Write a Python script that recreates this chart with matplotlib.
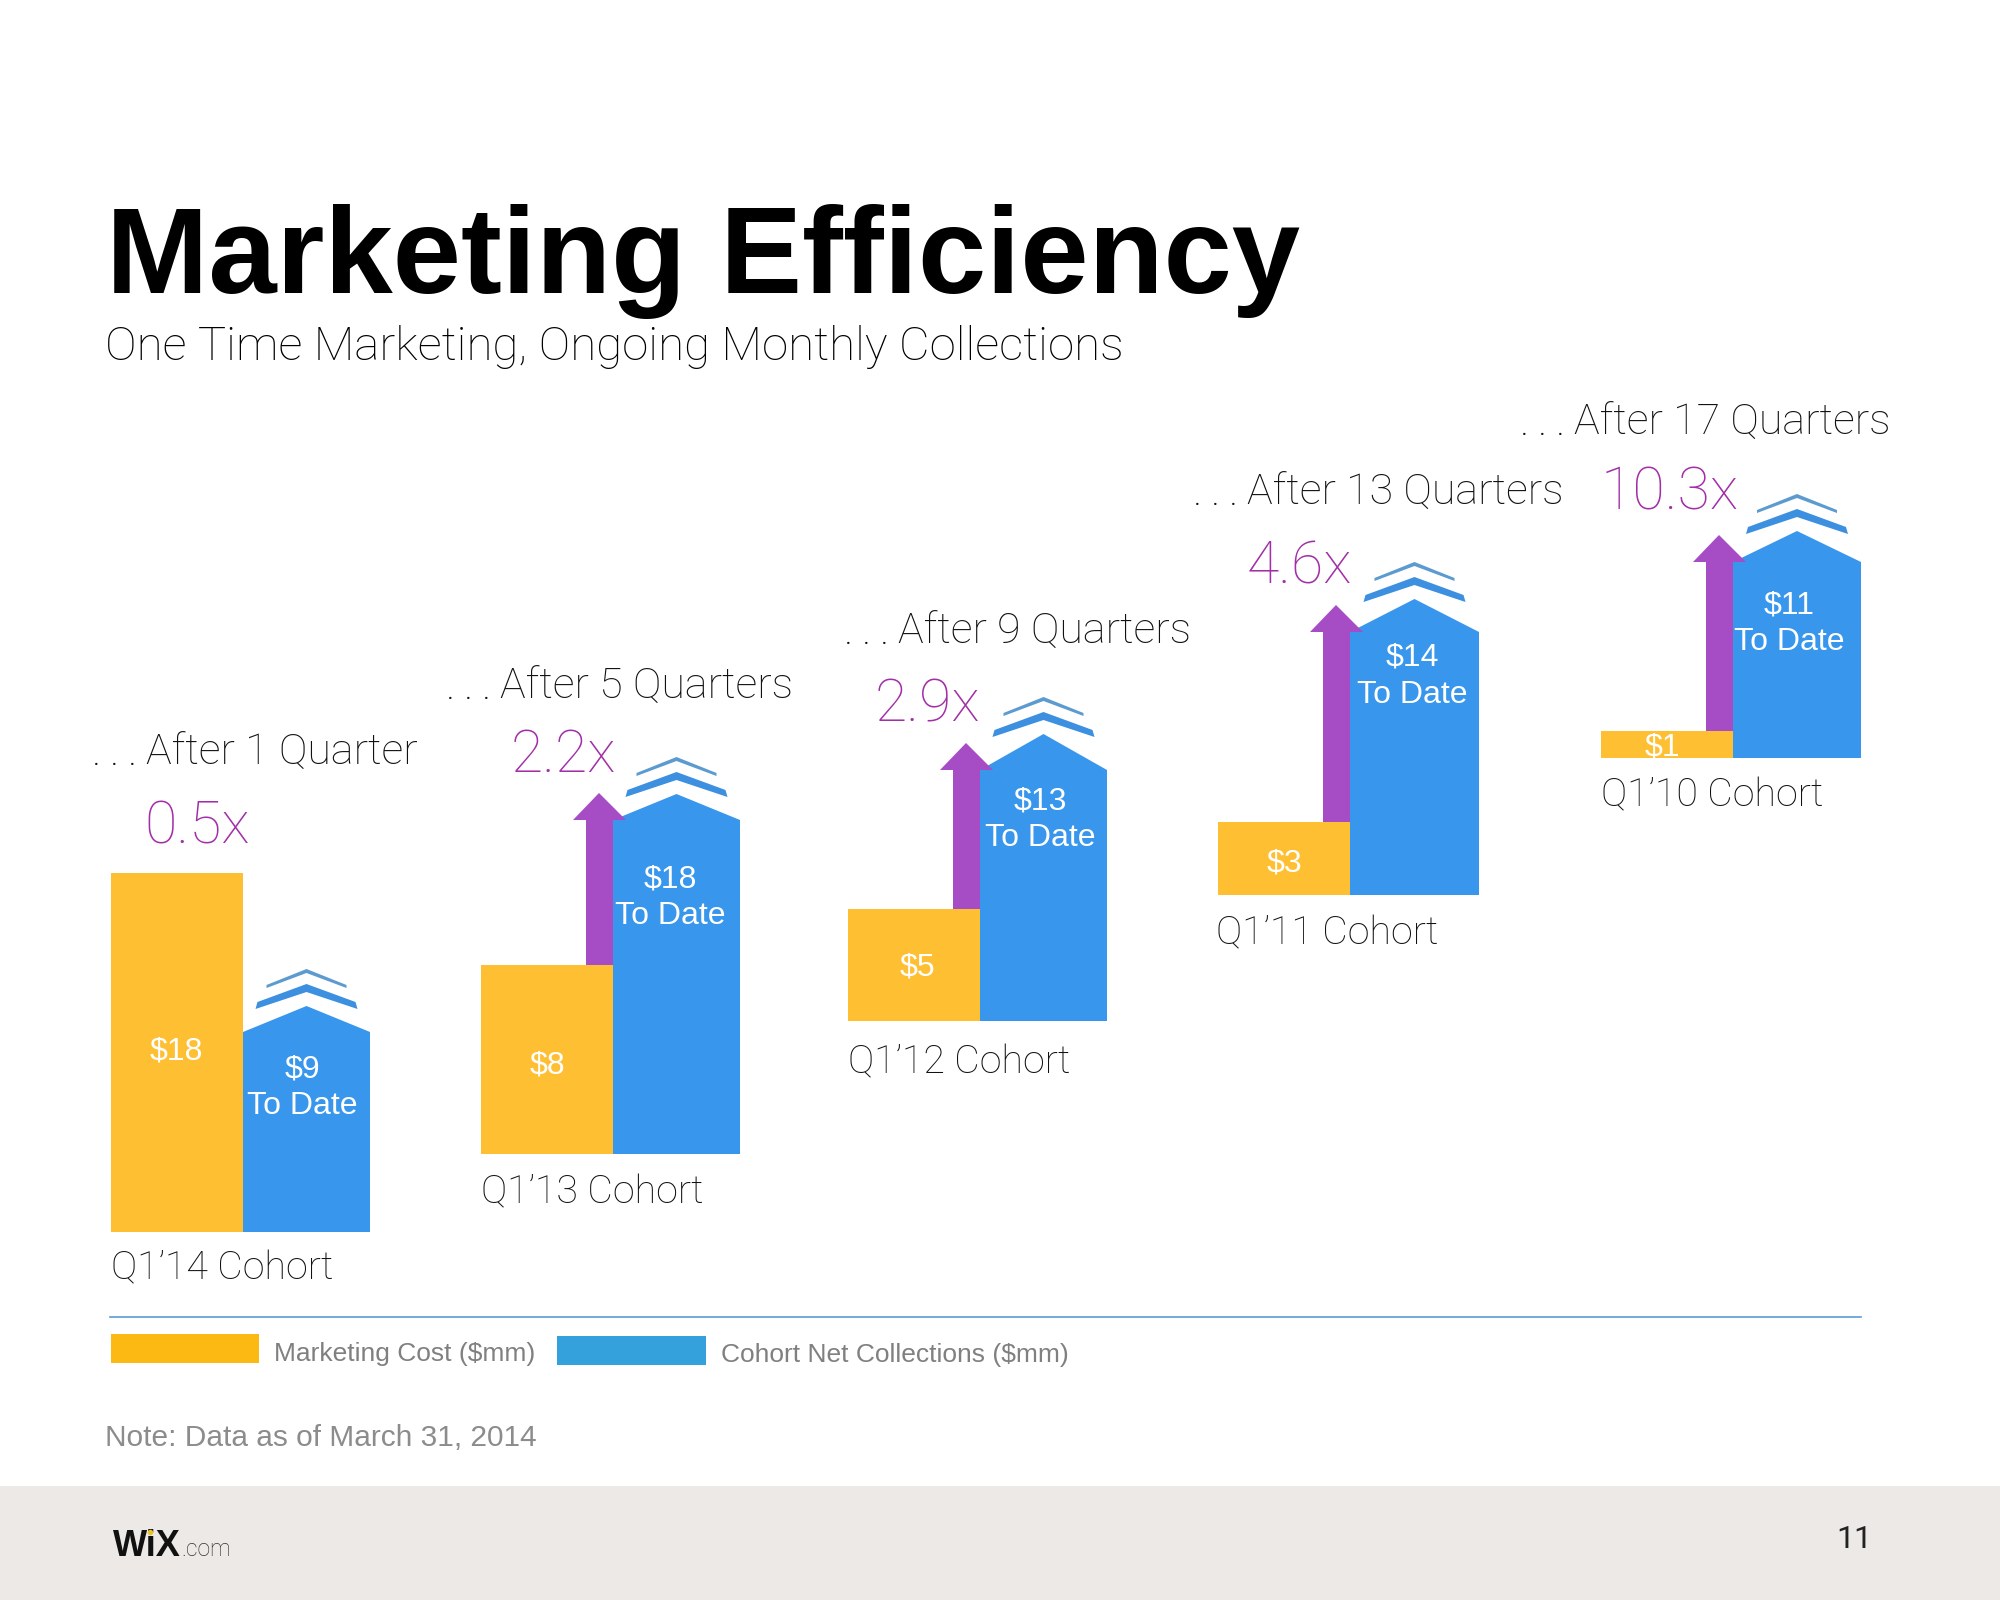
import matplotlib
matplotlib.use("Agg")
import matplotlib.pyplot as plt
from matplotlib.patches import Polygon, Rectangle

LIGHT = ["Roboto", "Liberation Sans", "DejaVu Sans"]
HEAVY = ["Liberation Sans", "DejaVu Sans"]

COST = "#FFBF33"
COLLECT = "#3896EC"
ARROW = "#A64DC6"
MULT = "#A22FA8"

# chart values
cohorts = ["Q1\u201914 Cohort", "Q1\u201913 Cohort", "Q1\u201912 Cohort", "Q1\u201911 Cohort", "Q1\u201910 Cohort"]
quarters = ["After 1 Quarter", "After 5 Quarters", "After 9 Quarters", "After 13 Quarters", "After 17 Quarters"]
multiples = ["0.5x", "2.2x", "2.9x", "4.6x", "10.3x"]
cost_labels = ["$18", "$8", "$5", "$3", "$1"]
collected_labels = ["$9", "$18", "$13", "$14", "$11"]
# drawn heights, it is not to one scale
cost_heights = [359, 189, 112, 73, 27]
collected_heights = [200, 334, 251, 263, 196]

# layout, in slide pixels
left = [111, 481, 848, 1218, 1601]
base = [1232, 1154, 1021, 895, 758]
cost_w = 132
coll_w = [127, 127, 127, 129, 128]
cap = [26, 26, 36, 33, 31]
quarter_xy = [(92, 765), (446, 699), (844, 644), (1193, 505), (1520, 435)]
mult_xy = [(144, 844), (511, 772), (875, 722), (1247, 584), (1601, 510)]
cohort_xy = [(111, 1279), (481, 1203), (848, 1073), (1216, 944), (1601, 806)]
cost_text_xy = [(176, 1051), (547, 1066), (917, 968), (1284, 864), (1662, 748)]
coll_text_xy = [(302, 1069), (670, 879), (1040, 801), (1412, 658), (1789, 605)]

fig = plt.figure(figsize=(20, 16), dpi=100)
ax = fig.add_axes([0, 0, 1, 1])
ax.set_xlim(0, 2000)
ax.set_ylim(1600, 0)
ax.axis("off")

ax.add_patch(Rectangle((0, 1486), 2000, 114, color="#ECE9E6", lw=0))

ax.text(106, 293, "Marketing Efficiency", family=HEAVY, weight="bold", fontsize=88.4, color="black")
ax.text(105, 360, "One Time Marketing, Ongoing Monthly Collections", family=LIGHT, weight="light",
        fontsize=34.1, color="black")

for i in range(5):
    x0 = left[i]
    x1 = x0 + cost_w
    x2 = x1 + coll_w[i]
    mid = (x1 + x2) / 2
    shoulder = base[i] - collected_heights[i]
    apex = shoulder - cap[i]

    ax.bar(x0, -cost_heights[i], width=cost_w, bottom=base[i], align="edge", color=COST, lw=0, zorder=2)
    ax.bar(x1, -collected_heights[i], width=coll_w[i], bottom=base[i], align="edge", color=COLLECT, lw=0, zorder=2)
    ax.add_patch(Polygon([(x1, shoulder), (mid, apex), (x2, shoulder)], color=COLLECT, lw=0, zorder=2))

    # double chevron over the bar
    ax.add_patch(Polygon([(mid - 49, apex - 4), (mid, apex - 22), (mid + 49, apex - 4),
                          (mid + 51, apex + 3), (mid, apex - 14), (mid - 51, apex + 3)],
                         color="#3D8FE0", lw=0, zorder=2))
    ax.add_patch(Polygon([(mid - 40, apex - 21), (mid, apex - 37), (mid + 40, apex - 21),
                          (mid + 40, apex - 18), (mid, apex - 33), (mid - 40, apex - 18)],
                         color="#5C9BD0", lw=0, zorder=2))

    # first cohort has no growth arrow
    if i > 0:
        ax.add_patch(Polygon([(x1 - 27, base[i] - cost_heights[i]), (x1 - 27, shoulder), (x1 - 40, shoulder),
                              (x1 - 14, shoulder - 27), (x1 + 13, shoulder), (x1, shoulder),
                              (x1, base[i] - cost_heights[i])], color=ARROW, lw=0, zorder=3))

    qx, qy = quarter_xy[i]
    ax.text(qx, qy, ".\u2009.\u2009.", family=LIGHT, weight="light", fontsize=31, color="#111111")
    ax.text(qx + 54, qy, quarters[i], family=LIGHT, weight="light", fontsize=31, color="#111111")
    ax.text(*mult_xy[i], multiples[i], family=LIGHT, weight="light", fontsize=42.5, color=MULT)
    ax.text(*cohort_xy[i], cohorts[i], family=LIGHT, weight="light", fontsize=28.4, color="#111111")
    ax.text(*cost_text_xy[i], cost_labels[i], family=HEAVY, fontsize=23, color="white",
            ha="center", va="center", zorder=4)
    cx, cy = coll_text_xy[i]
    ax.text(cx, cy, collected_labels[i], family=HEAVY, fontsize=23, color="white",
            ha="center", va="center", zorder=4)
    ax.text(cx, cy + 37, "To Date", family=HEAVY, fontsize=23, color="white",
            ha="center", va="center", zorder=4)

# legend
ax.plot([110, 1861], [1317, 1317], color="#5B9BD5", lw=1.2)
ax.add_patch(Rectangle((111, 1334), 148, 29, color="#FDB913", lw=0))
ax.add_patch(Rectangle((557, 1336), 149, 29, color="#34A0DC", lw=0))
ax.text(274, 1354, "Marketing Cost ($mm)", family=HEAVY, fontsize=19, color="#808080", va="center")
ax.text(721, 1355, "Cohort Net Collections ($mm)", family=HEAVY, fontsize=19, color="#808080", va="center")
ax.text(105, 1438, "Note: Data as of March 31, 2014", family=HEAVY, fontsize=21.5, color="#8C8C8C", va="center")

# footer
ax.text(113, 1556, "WiX", family=HEAVY, weight="bold", fontsize=26, color="#111111")
ax.plot([150], [1532], marker="o", ms=4, color="#E8C52A", mew=0, zorder=5)
ax.text(181, 1556, ".com", family=LIGHT, weight="light", fontsize=16.5, color="#333333")
ax.text(1872, 1540, "11", family=LIGHT, fontsize=23, color="#222222", ha="right", va="center")

fig.savefig("out.png", dpi=100)
